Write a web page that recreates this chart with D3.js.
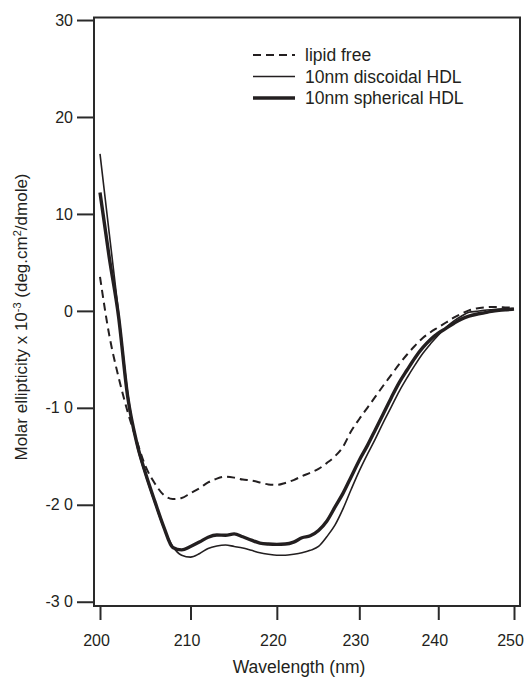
<!DOCTYPE html>
<html>
<head>
<meta charset="utf-8">
<script src="https://cdn.jsdelivr.net/npm/d3@7"></script>
<style>
  body { margin: 0; background: #fff; }
  svg { display: block; font-family: "Liberation Sans", Arial, sans-serif; }
</style>
</head>
<body>
<script>
// CD spectra, wavelength in nm, molar ellipticity in units of 10^3
const wavelength = [200, 201, 202, 203, 204, 205, 206, 207, 208, 209,
                    210, 211, 212, 213, 214, 215, 216, 217, 218, 219,
                    220, 221, 222, 223, 224, 225, 226, 227, 228, 229,
                    230, 231, 232, 233, 234, 235, 236, 237, 238, 239,
                    240, 241, 242, 243, 244, 245, 246, 247, 248, 249, 250];

const lipidFree = [3.5, -2.5, -6.8, -10.4, -13.4, -16.1, -17.8, -19.0, -19.4, -19.3,
                   -18.8, -18.3, -17.7, -17.3, -17.1, -17.2, -17.4, -17.5, -17.7, -17.9,
                   -17.95, -17.75, -17.45, -17.05, -16.7, -16.3, -15.7, -15.0, -14.0, -12.4,
                   -11.15, -10.0, -8.85, -7.7, -6.6, -5.5, -4.5, -3.6, -2.8, -2.2,
                   -1.7, -1.2, -0.7, -0.3, 0.05, 0.25, 0.35, 0.4, 0.4, 0.35, 0.35];

const discoidal = [16.2, 8.0, -0.1, -8.4, -13.8, -17.0, -19.8, -22.4, -24.3, -25.2,
                   -25.4, -25.05, -24.5, -24.25, -24.15, -24.3, -24.45, -24.7, -24.95, -25.1,
                   -25.2, -25.2, -25.1, -24.95, -24.7, -24.3, -23.3, -22.1, -20.4, -18.4,
                   -16.5, -14.8, -13.2, -11.5, -9.9, -8.3, -6.9, -5.6, -4.4, -3.4,
                   -2.5, -1.7, -1.05, -0.55, -0.15, -0.05, 0.05, 0.12, 0.18, 0.22, 0.25];

const spherical = [12.2, 5.5, -0.5, -8.8, -13.6, -16.85, -19.65, -22.3, -24.4, -24.65,
                   -24.3, -23.85, -23.35, -23.12, -23.15, -23.0, -23.3, -23.65, -23.95, -24.05,
                   -24.08, -24.05, -23.85, -23.4, -23.2, -22.65, -21.7, -20.25, -18.8, -17.1,
                   -15.4, -13.9, -12.25, -10.6, -8.95, -7.4, -6.1, -4.85, -3.8, -2.95,
                   -2.3, -1.8, -1.3, -0.85, -0.55, -0.35, -0.2, -0.05, 0.05, 0.12, 0.18];

const seriesNames = ["lipid free", "10nm discoidal HDL", "10nm spherical HDL"];
const xTicks = [200, 210, 220, 230, 240, 250];
const yTicks = [-30, -20, -10, 0, 10, 20, 30];

const width = 526;
const height = 678;
const ink = "#231f20";

// frame edges
const frameLeft = 94, frameRight = 520, frameTop = 17.5, frameBottom = 606;

const svg = d3.select("body")
    .append("svg")
    .attr("width", width)
    .attr("height", height);

// x is on a log scale in the original figure
const x = d3.scaleLog()
    .domain([200, 250])
    .range([100, 514]);

const y = d3.scaleLinear()
    .domain([-30.44, 30.26])
    .range([frameBottom, frameTop]);

// frame
svg.append("rect")
    .attr("x", frameLeft)
    .attr("y", frameTop)
    .attr("width", frameRight - frameLeft)
    .attr("height", frameBottom - frameTop)
    .attr("fill", "none")
    .attr("stroke", "#2a2a2a")
    .attr("stroke-width", 2);

// y axis
const yAxis = svg.append("g")
    .attr("transform", "translate(" + frameLeft + ",0)")
    .call(d3.axisLeft(y)
        .tickValues(yTicks)
        .tickSize(17)
        .tickPadding(4)
        .tickFormat(function(d) {
            const s = String(d);
            return d < 0 ? s.slice(0, -1) + " " + s.slice(-1) : s;
        }));
yAxis.select(".domain").remove();
yAxis.selectAll(".tick line").attr("stroke", "#2a2a2a").attr("stroke-width", 2);
yAxis.selectAll(".tick text")
    .attr("fill", ink)
    .style("font-size", "16px")
    .style("font-family", "Liberation Sans, Arial, sans-serif");

// x axis, ticks hang just under the frame
const xAxis = svg.append("g")
    .attr("transform", "translate(0," + (frameBottom + 1) + ")")
    .call(d3.axisBottom(x)
        .tickValues(xTicks)
        .tickSize(13)
        .tickPadding(15)
        .tickFormat(d3.format("d")));
xAxis.select(".domain").remove();
xAxis.selectAll(".tick line").attr("stroke", "#2a2a2a").attr("stroke-width", 2);
xAxis.selectAll(".tick text")
    .attr("fill", ink)
    .attr("dx", -4)
    .style("font-size", "16px")
    .style("font-family", "Liberation Sans, Arial, sans-serif");

// axis titles
svg.append("text")
    .attr("x", 299)
    .attr("y", 673)
    .attr("text-anchor", "middle")
    .attr("fill", ink)
    .style("font-size", "17.5px")
    .text("Wavelength (nm)");

const yTitle = svg.append("text")
    .attr("transform", "translate(27,317) rotate(-90)")
    .attr("text-anchor", "middle")
    .attr("fill", ink)
    .style("font-size", "17px");
yTitle.append("tspan").text("Molar ellipticity x 10");
yTitle.append("tspan").attr("dy", -6).style("font-size", "11px").text("-3");
yTitle.append("tspan").attr("dy", 6).text(" (deg.cm");
yTitle.append("tspan").attr("dy", -6).style("font-size", "11px").text("2");
yTitle.append("tspan").attr("dy", 6).text("/dmole)");

// curves
const line = d3.line()
    .x(function(d) { return x(d[0]); })
    .y(function(d) { return y(d[1]); })
    .curve(d3.curveMonotoneX);

const styles = [
    { values: lipidFree, width: 2, dash: "8,5" },
    { values: discoidal, width: 1.6, dash: null },
    { values: spherical, width: 3.4, dash: null }
];

styles.forEach(function(s) {
    svg.append("path")
        .datum(d3.zip(wavelength, s.values))
        .attr("d", line)
        .attr("fill", "none")
        .attr("stroke", ink)
        .attr("stroke-width", s.width)
        .attr("stroke-dasharray", s.dash)
        .attr("stroke-linejoin", "round");
});

// legend
const legend = svg.append("g").attr("transform", "translate(253,55)");
seriesNames.forEach(function(name, i) {
    const row = legend.append("g").attr("transform", "translate(0," + (i * 21.5) + ")");
    row.append("line")
        .attr("x1", 0).attr("x2", 42)
        .attr("y1", 0).attr("y2", 0)
        .attr("stroke", ink)
        .attr("stroke-width", styles[i].width)
        .attr("stroke-dasharray", styles[i].dash);
    row.append("text")
        .attr("x", 52)
        .attr("y", 6)
        .attr("fill", ink)
        .style("font-size", "17.5px")
        .text(name);
});
</script>
</body>
</html>
